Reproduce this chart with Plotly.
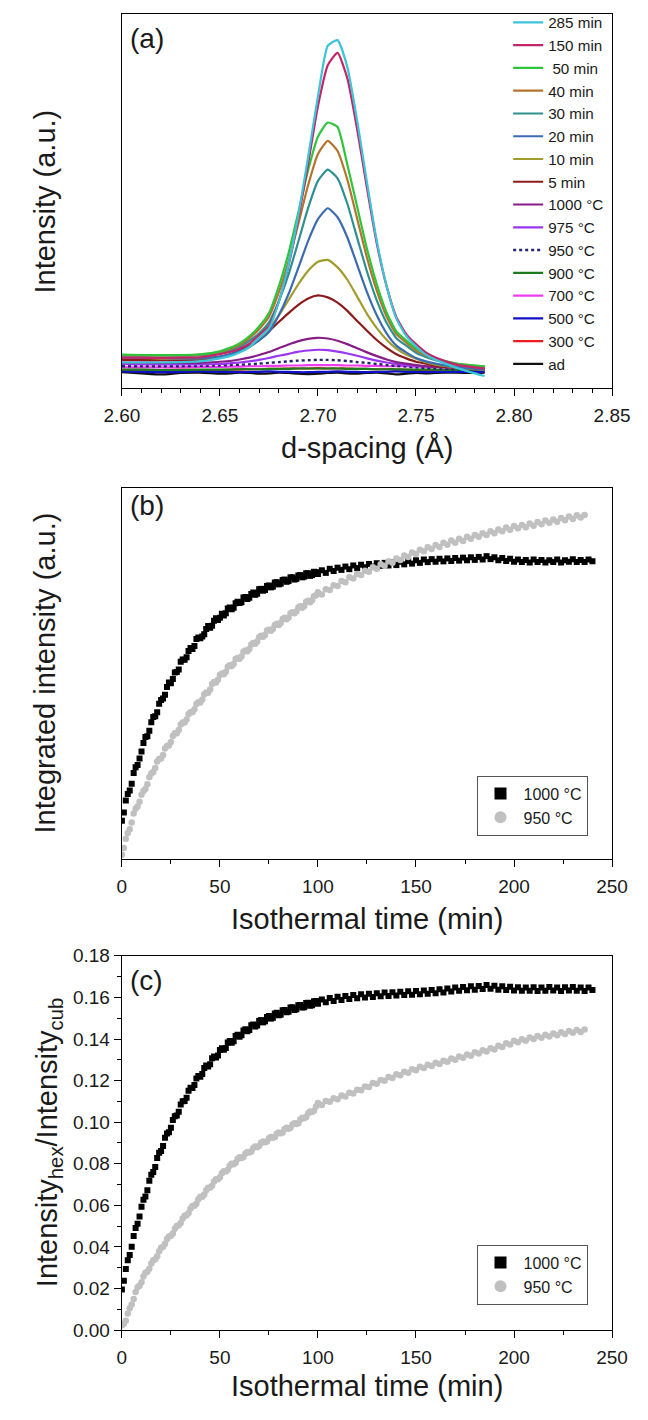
import plotly.graph_objects as go

# ---------------- panel (a) data ----------------
D_SPACING = [2.600, 2.610, 2.620, 2.630, 2.640, 2.650, 2.655, 2.660, 2.665, 2.670,
             2.675, 2.680, 2.685, 2.690, 2.695, 2.700, 2.705, 2.710, 2.715, 2.720,
             2.725, 2.730, 2.735, 2.740, 2.745, 2.750, 2.755, 2.760, 2.770, 2.780, 2.785]

I_285MIN = [6.9, 6.9, 6.9, 7.0, 7.2, 8.0, 8.6, 9.6, 11.0, 13.5, 16.0, 23.0, 33.1, 46.3, 61.8, 78.0,
            91.5, 93.0, 85.8, 71.5, 55.0, 39.4, 27.4, 18.6, 14.0, 11.2, 9.0, 7.6, 5.6, 4.0, 3.3]
I_150MIN = [8.2, 8.2, 8.1, 8.2, 8.3, 9.1, 9.7, 10.6, 11.9, 14.2, 16.6, 23.2, 32.8, 45.4, 60.0, 75.4,
            86.3, 89.6, 82.8, 69.2, 53.5, 38.7, 27.3, 19.0, 14.5, 11.8, 9.6, 8.2, 6.4, 5.6, 5.3]
I_50MIN = [9.0, 8.9, 8.9, 8.9, 9.1, 9.9, 10.8, 12.0, 13.9, 16.5, 20.1, 27.2, 36.1, 47.0, 58.3, 67.2,
           71.0, 69.8, 59.7, 48.5, 37.3, 27.8, 20.3, 15.2, 12.8, 10.6, 9.2, 8.0, 6.7, 6.1, 5.9]
I_40MIN = [8.9, 8.8, 8.8, 8.8, 9.0, 9.7, 10.5, 11.6, 13.4, 15.8, 19.1, 25.6, 33.9, 44.0, 54.3, 62.6,
           66.1, 63.4, 55.7, 45.3, 34.9, 26.1, 19.2, 14.5, 12.2, 10.1, 8.8, 7.8, 6.6, 6.0, 5.8]
I_30MIN = [8.8, 8.7, 8.7, 8.7, 8.8, 9.4, 10.1, 11.1, 12.7, 14.7, 17.6, 23.2, 30.4, 39.2, 48.2, 55.4,
           58.4, 56.1, 49.3, 40.2, 31.2, 23.5, 17.5, 13.4, 11.4, 9.5, 8.4, 7.5, 6.4, 5.9, 5.7]
I_20MIN = [8.2, 8.1, 8.1, 8.0, 8.0, 8.5, 9.1, 9.9, 11.1, 12.8, 15.0, 19.5, 25.2, 32.2, 39.4, 45.2,
           48.1, 45.7, 40.3, 33.0, 25.7, 19.5, 14.7, 11.4, 9.6, 8.1, 7.2, 6.6, 5.7, 5.2, 5.0]
I_10MIN = [8.2, 8.1, 8.0, 8.0, 8.0, 8.4, 9.0, 9.7, 11.0, 13.1, 15.9, 19.4, 23.6, 27.8, 31.4, 33.8,
           34.3, 32.3, 29.0, 24.5, 19.9, 16.1, 13.0, 10.6, 9.0, 7.9, 7.0, 6.3, 5.6, 5.1, 4.9]
I_5MIN = [7.6, 7.6, 7.5, 7.5, 7.7, 8.4, 9.0, 10.1, 11.3, 13.0, 15.2, 17.7, 20.1, 22.3, 24.0, 24.8,
          24.3, 22.9, 20.7, 18.0, 15.4, 12.9, 10.8, 9.1, 8.0, 7.1, 6.6, 6.0, 5.5, 5.1, 5.0]
I_1000C = [6.9, 6.9, 6.8, 6.8, 6.8, 7.1, 7.3, 7.7, 8.2, 8.9, 9.7, 10.7, 11.7, 12.6, 13.2, 13.5,
           13.3, 12.7, 11.8, 10.7, 9.6, 8.6, 7.7, 7.0, 6.6, 6.2, 5.9, 5.7, 5.5, 5.3, 5.2]
I_975C = [6.5, 6.4, 6.4, 6.4, 6.4, 6.5, 6.7, 6.9, 7.2, 7.6, 8.1, 8.7, 9.2, 9.8, 10.1, 10.3,
          10.2, 9.8, 9.3, 8.7, 8.0, 7.4, 6.9, 6.5, 6.2, 6.0, 5.9, 5.7, 5.6, 5.5, 5.4]
I_950C = [5.9, 5.9, 5.9, 5.9, 6.0, 6.1, 6.2, 6.3, 6.4, 6.6, 6.8, 7.0, 7.2, 7.4, 7.5, 7.6,
          7.6, 7.5, 7.3, 7.0, 6.8, 6.5, 6.2, 6.0, 5.8, 5.6, 5.4, 5.3, 5.1, 5.0, 4.9]
I_900C = [5.0, 5.0, 4.9, 4.9, 5.0, 5.0, 5.0, 5.1, 5.1, 5.1, 5.2, 5.2, 5.2, 5.3, 5.3, 5.3,
          5.3, 5.3, 5.2, 5.2, 5.2, 5.1, 5.1, 5.1, 5.0, 5.0, 5.0, 5.0, 4.9, 4.9, 4.9]
I_700C = [5.6, 5.6, 5.6, 5.6, 5.7, 5.7, 5.8, 5.8, 5.9, 5.9, 6.0, 6.0, 6.1, 6.1, 6.2, 6.2,
          6.2, 6.2, 6.1, 6.1, 6.0, 6.0, 5.9, 5.9, 5.9, 5.8, 5.8, 5.8, 5.8, 5.8, 5.8]
I_500C = [4.5, 4.4, 4.3, 4.4, 4.5, 4.4, 4.4, 4.3, 4.4, 4.4, 4.5, 4.4, 4.4, 4.3, 4.3, 4.4,
          4.4, 4.5, 4.4, 4.4, 4.3, 4.4, 4.4, 4.5, 4.4, 4.4, 4.3, 4.4, 4.4, 4.4, 4.4]
I_300C = [4.9, 4.8, 4.9, 5.0, 4.9, 4.9, 5.0, 5.0, 5.1, 5.1, 5.2, 5.2, 5.3, 5.3, 5.3, 5.4,
          5.3, 5.3, 5.3, 5.2, 5.2, 5.1, 5.1, 5.0, 5.0, 4.9, 4.9, 4.9, 4.8, 4.8, 4.8]
I_AD = [4.3, 4.0, 3.7, 4.1, 4.2, 3.9, 4.0, 4.2, 4.1, 3.9, 4.0, 4.2, 4.1, 3.9, 3.8, 3.9,
        4.1, 4.2, 4.0, 3.9, 4.1, 4.2, 4.0, 3.7, 3.9, 4.1, 4.0, 4.1, 4.2, 4.1, 4.2]

# drawing order (bottom to top); legend shows it reversed
SERIES_NAMES = ["ad", "300 °C", "500 °C", "700 °C", "900 °C", "950 °C", "975 °C", "1000 °C",
                "5 min", "10 min", "20 min", "30 min", "40 min", " 50 min", "150 min", "285 min"]
SERIES_VALUES = [I_AD, I_300C, I_500C, I_700C, I_900C, I_950C, I_975C, I_1000C,
                 I_5MIN, I_10MIN, I_20MIN, I_30MIN, I_40MIN, I_50MIN, I_150MIN, I_285MIN]
SERIES_COLORS = ["#111111", "#EE1C1C", "#1010C8", "#F03CF0", "#1E7A1E", "#23236E", "#9A35F0",
                 "#861E86", "#8C1C1C", "#A09C2E", "#3C6CB0", "#2E9090", "#B4742E", "#2EC43C",
                 "#C42468", "#3CC4D8"]

# ---------------- panels (b) and (c) data ----------------
TIME_1000 = [0, 2, 4, 6, 8, 10, 12, 14, 16, 18, 20, 22, 24, 26, 28, 30, 32, 34, 36, 38, 40,
             42, 44, 46, 48, 50, 52, 54, 56, 58, 60, 62, 64, 66, 68, 70, 72, 74, 76, 78, 80,
             82, 84, 86, 88, 90, 92, 94, 96, 98, 100, 102, 104, 106, 108, 110, 112, 114, 116, 118, 120,
             122, 124, 126, 128, 130, 132, 134, 136, 138, 140, 142, 144, 146, 148, 150, 152, 154, 156, 158, 160,
             162, 164, 166, 168, 170, 172, 174, 176, 178, 180, 182, 184, 186, 188, 190, 192, 194, 196, 198, 200,
             202, 204, 206, 208, 210, 212, 214, 216, 218, 220, 222, 224, 226, 228, 230, 232, 234, 236, 238, 240]
TIME_950 = [0, 2, 4, 6, 8, 10, 12, 14, 16, 18, 20, 22, 24, 26, 28, 30, 32, 34, 36, 38, 40,
            42, 44, 46, 48, 50, 52, 54, 56, 58, 60, 62, 64, 66, 68, 70, 72, 74, 76, 78, 80,
            82, 84, 86, 88, 90, 92, 94, 96, 98, 100, 102, 104, 106, 108, 110, 112, 114, 116, 118, 120,
            122, 124, 126, 128, 130, 132, 134, 136, 138, 140, 142, 144, 146, 148, 150, 152, 154, 156, 158, 160,
            162, 164, 166, 168, 170, 172, 174, 176, 178, 180, 182, 184, 186, 188, 190, 192, 194, 196, 198, 200,
            202, 204, 206, 208, 210, 212, 214, 216, 218, 220, 222, 224, 226, 228, 230, 232, 234, 236]
# extra (odd-minute) readings during the fast early rise
TIME_EARLY = [1, 3, 5, 7, 9, 11, 13, 15, 17, 19, 21, 23, 25, 27, 29, 31, 33, 35, 37, 39, 41, 43, 45,
              47, 49, 51, 53, 55, 57, 59, 61, 63, 65, 67, 69, 71, 73, 75, 77, 79, 81, 83, 85, 87, 89,
              91, 93, 95, 97, 99]

INTEG_1000 = [10.4, 15.8, 18.5, 23.2, 25.4, 29.0, 32.9, 34.6, 38.3, 39.6, 42.9, 44.3, 47.6, 48.5, 50.4,
              53.2, 53.7, 56.1, 56.6, 59.3, 59.5, 60.6, 62.8, 62.9, 64.9, 65.0, 65.6, 67.5, 67.3, 68.9,
              69.0, 70.5, 70.1, 71.4, 71.2, 72.7, 72.3, 73.6, 73.2, 74.5, 74.0, 75.2, 74.7, 75.9, 75.3,
              76.4, 75.9, 77.0, 76.3, 77.4, 76.8, 77.8, 77.1, 78.2, 77.6, 78.5, 77.9, 78.8, 78.1, 79.1,
              78.4, 79.3, 78.6, 79.5, 78.8, 79.7, 79.0, 79.8, 79.1, 79.9, 79.2, 80.1, 79.4, 80.3, 79.6,
              80.5, 79.8, 80.7, 80.0, 80.8, 80.1, 80.9, 80.2, 81.0, 80.3, 81.1, 80.4, 81.2, 80.5, 81.3,
              80.6, 81.4, 80.7, 81.6, 80.8, 81.3, 80.5, 81.1, 80.3, 80.9, 80.1, 80.7, 80.0, 80.6, 79.9,
              80.7, 80.0, 80.6, 79.9, 80.5, 80.0, 80.7, 79.9, 80.5, 80.1, 80.8, 80.0, 80.6, 80.0, 80.7, 80.2]
INTEG_1000_EARLY = [12.6, 17.6, 20.3, 24.8, 27.1, 31.3, 33.1, 36.9, 38.5, 41.9, 43.3, 46.4, 47.4, 50.3,
                    51.1, 53.8, 54.4, 56.9, 57.4, 59.7, 60.0, 62.0, 62.3, 64.2, 64.4, 66.1, 66.2, 67.8,
                    67.7, 69.3, 69.2, 70.6, 70.4, 71.8, 71.5, 72.8, 72.5, 73.7, 73.4, 74.6, 74.2, 75.3,
                    74.9, 75.9, 75.5, 76.5, 76.1, 77.0, 76.5, 77.3]
INTEG_950 = [1.2, 5.5, 8.1, 12.3, 14.2, 17.4, 18.9, 22.1, 23.5, 26.3, 27.1, 29.8, 30.6, 33.2, 33.9,
             36.3, 36.8, 39.1, 39.6, 41.8, 42.2, 44.4, 44.8, 47.2, 47.6, 49.6, 49.8, 51.8, 52.0, 53.9,
             54.0, 55.9, 56.0, 57.8, 58.0, 59.8, 59.9, 61.6, 61.5, 63.1, 63.1, 64.7, 64.6, 66.2, 66.2,
             67.8, 67.7, 69.3, 69.2, 70.8, 71.9, 71.3, 72.7, 72.5, 73.8, 73.6, 74.9, 74.6, 75.9, 75.6,
             76.8, 76.5, 77.7, 77.4, 78.6, 78.2, 79.4, 79.0, 80.2, 79.8, 81.0, 80.6, 81.8, 81.4, 82.6,
             82.2, 83.3, 82.9, 84.0, 83.5, 84.6, 84.1, 85.2, 84.7, 85.8, 85.2, 86.3, 85.7, 86.8, 86.3,
             87.3, 86.8, 87.8, 87.3, 88.3, 87.8, 88.8, 88.3, 89.3, 88.7, 89.7, 89.1, 90.0, 89.4, 90.4,
             89.8, 90.8, 90.2, 91.2, 90.6, 91.5, 90.9, 91.9, 91.3, 92.3, 91.6, 92.6, 92.0, 92.7]
INTEG_950_EARLY = [3.0, 7.1, 9.9, 13.6, 15.5, 18.4, 20.2, 23.1, 24.6, 27.0, 28.1, 30.5, 31.6, 33.9,
                   34.8, 36.8, 37.6, 39.6, 40.4, 42.3, 43.0, 44.9, 45.7, 47.7, 48.3, 50.0, 50.5, 52.2,
                   52.6, 54.2, 54.6, 56.2, 56.6, 58.2, 58.6, 60.2, 60.4, 61.8, 62.0, 63.4, 63.6, 65.0,
                   65.1, 66.5, 66.7, 68.1, 68.2, 69.6, 69.7, 71.1]

RATIO_1000 = [0.0195, 0.0294, 0.0362, 0.0453, 0.0512, 0.0594, 0.0643, 0.0718, 0.0760, 0.0828, 0.0861,
              0.0925, 0.0952, 0.1010, 0.1032, 0.1085, 0.1102, 0.1151, 0.1164, 0.1210, 0.1219,
              0.1261, 0.1268, 0.1307, 0.1311, 0.1347, 0.1348, 0.1383, 0.1382, 0.1414, 0.1411,
              0.1441, 0.1437, 0.1466, 0.1460, 0.1487, 0.1480, 0.1506, 0.1498, 0.1523, 0.1514,
              0.1538, 0.1528, 0.1551, 0.1540, 0.1562, 0.1551, 0.1573, 0.1560, 0.1582, 0.1569,
              0.1590, 0.1577, 0.1597, 0.1583, 0.1603, 0.1588, 0.1607, 0.1592, 0.1611, 0.1596,
              0.1615, 0.1599, 0.1618, 0.1602, 0.1620, 0.1605, 0.1623, 0.1607, 0.1625, 0.1609,
              0.1627, 0.1611, 0.1629, 0.1613, 0.1631, 0.1615, 0.1633, 0.1617, 0.1636, 0.1620,
              0.1639, 0.1624, 0.1643, 0.1628, 0.1647, 0.1632, 0.1650, 0.1634, 0.1653, 0.1637,
              0.1655, 0.1640, 0.1660, 0.1641, 0.1656, 0.1637, 0.1653, 0.1635, 0.1651, 0.1633,
              0.1649, 0.1632, 0.1648, 0.1632, 0.1649, 0.1631, 0.1648, 0.1632, 0.1650, 0.1633,
              0.1648, 0.1631, 0.1649, 0.1633, 0.1650, 0.1632, 0.1648, 0.1631, 0.1647, 0.1636]
RATIO_1000_EARLY = [0.0238, 0.0336, 0.0401, 0.0491, 0.0546, 0.0627, 0.0673, 0.0747, 0.0785, 0.0853,
                    0.0885, 0.0946, 0.0973, 0.1029, 0.1050, 0.1101, 0.1118, 0.1166, 0.1179, 0.1222,
                    0.1232, 0.1272, 0.1279, 0.1316, 0.1321, 0.1355, 0.1357, 0.1390, 0.1389, 0.1420,
                    0.1418, 0.1447, 0.1443, 0.1470, 0.1465, 0.1491, 0.1485, 0.1510, 0.1502, 0.1526,
                    0.1517, 0.1540, 0.1531, 0.1553, 0.1543, 0.1564, 0.1553, 0.1574, 0.1562, 0.1583]
RATIO_950 = [0.0024, 0.0045, 0.0106, 0.0150, 0.0206, 0.0230, 0.0276, 0.0295, 0.0336, 0.0355, 0.0396,
             0.0415, 0.0451, 0.0465, 0.0501, 0.0515, 0.0550, 0.0563, 0.0597, 0.0608, 0.0641,
             0.0652, 0.0685, 0.0695, 0.0726, 0.0735, 0.0764, 0.0771, 0.0800, 0.0805, 0.0831,
             0.0833, 0.0857, 0.0859, 0.0883, 0.0885, 0.0907, 0.0907, 0.0929, 0.0929, 0.0951,
             0.0951, 0.0973, 0.0973, 0.0995, 0.0995, 0.1021, 0.1025, 0.1051, 0.1055, 0.1092,
             0.1083, 0.1102, 0.1098, 0.1115, 0.1110, 0.1128, 0.1124, 0.1142, 0.1138, 0.1156,
             0.1153, 0.1172, 0.1169, 0.1188, 0.1185, 0.1203, 0.1199, 0.1217, 0.1213, 0.1231,
             0.1226, 0.1243, 0.1238, 0.1255, 0.1250, 0.1266, 0.1260, 0.1276, 0.1270, 0.1286,
             0.1280, 0.1296, 0.1290, 0.1306, 0.1300, 0.1316, 0.1310, 0.1326, 0.1320, 0.1336,
             0.1330, 0.1346, 0.1340, 0.1356, 0.1350, 0.1367, 0.1362, 0.1379, 0.1374, 0.1391,
             0.1384, 0.1399, 0.1392, 0.1407, 0.1400, 0.1414, 0.1406, 0.1420, 0.1412, 0.1426,
             0.1418, 0.1432, 0.1424, 0.1438, 0.1430, 0.1443, 0.1434, 0.1446]
RATIO_950_EARLY = [0.0031, 0.0080, 0.0124, 0.0183, 0.0214, 0.0258, 0.0281, 0.0320, 0.0341, 0.0380,
                   0.0401, 0.0438, 0.0454, 0.0488, 0.0504, 0.0537, 0.0552, 0.0585, 0.0598, 0.0629,
                   0.0642, 0.0673, 0.0686, 0.0715, 0.0726, 0.0754, 0.0763, 0.0790, 0.0798, 0.0823,
                   0.0828, 0.0850, 0.0854, 0.0876, 0.0880, 0.0901, 0.0903, 0.0923, 0.0925, 0.0945,
                   0.0947, 0.0967, 0.0969, 0.0989, 0.0991, 0.1013, 0.1019, 0.1043, 0.1049, 0.1075]

FONT = "Liberation Sans, Arial, sans-serif"
TXT = "#1a1a1a"

fig = go.Figure()

for name, vals, color in zip(SERIES_NAMES, SERIES_VALUES, SERIES_COLORS):
    fig.add_trace(go.Scatter(
        x=D_SPACING, y=vals, mode="lines", name=name,
        line=dict(color=color, width=2.2 if name != "950 °C" else 2.4,
                  dash="dot" if name == "950 °C" else "solid",
                  shape="spline", smoothing=0.5),
        xaxis="x", yaxis="y", legend="legend"))

for (tx, ty, nm, sym, col, sz, xa, ya, lg) in [
    (TIME_1000 + TIME_EARLY, INTEG_1000 + INTEG_1000_EARLY, "1000 °C", "square", "#000000", 6, "x2", "y2", "legend2"),
    (TIME_950 + TIME_EARLY, INTEG_950 + INTEG_950_EARLY, "950 °C", "circle", "#C0C0C0", 6.5, "x2", "y2", "legend2"),
    (TIME_1000 + TIME_EARLY, RATIO_1000 + RATIO_1000_EARLY, "1000 °C", "square", "#000000", 6, "x3", "y3", "legend3"),
    (TIME_950 + TIME_EARLY, RATIO_950 + RATIO_950_EARLY, "950 °C", "circle", "#C0C0C0", 6.5, "x3", "y3", "legend3"),
]:
    fig.add_trace(go.Scatter(x=tx, y=ty, mode="markers", name=nm,
                             marker=dict(symbol=sym, color=col, size=sz, line=dict(width=0)),
                             xaxis=xa, yaxis=ya, legend=lg))

W, H = 648, 1420
XL, XR = 110 / W, 629 / W


def ydom(top, bot):
    return [1 - bot / H, 1 - top / H]


axis_common = dict(showline=True, linecolor="black", linewidth=1.3, mirror=True,
                   showgrid=False, zeroline=False, ticklen=7, tickwidth=1.2,
                   tickcolor="black", tickfont=dict(family=FONT, size=19, color=TXT))
minor_x = dict(ticks="outside", ticklen=4, tickcolor="black", tickwidth=1)

layout = dict(
    width=W, height=H, margin=dict(l=0, r=0, t=0, b=0),
    paper_bgcolor="white", plot_bgcolor="white",
    font=dict(family=FONT, color=TXT),
    xaxis=dict(domain=[XL, XR], anchor="y", range=[2.60, 2.85], dtick=0.05, tick0=2.60,
               tickformat=".2f", ticklabelstandoff=3, ticks="outside",
               minor=dict(dtick=0.01, **minor_x), **axis_common),
    yaxis=dict(domain=ydom(4, 384), anchor="x", range=[0, 100], showticklabels=False,
               ticks="", **axis_common),
    xaxis2=dict(domain=[XL, XR], anchor="y2", range=[0, 250], dtick=50, ticklabelstandoff=3,
                ticks="outside", minor=dict(dtick=25, **minor_x), **axis_common),
    yaxis2=dict(domain=ydom(485, 862), anchor="x2", range=[0, 100], showticklabels=False,
                ticks="", **axis_common),
    xaxis3=dict(domain=[XL, XR], anchor="y3", range=[0, 250], dtick=50, ticklabelstandoff=3,
                ticks="outside", minor=dict(dtick=25, **minor_x), **axis_common),
    yaxis3=dict(domain=ydom(960, 1340), anchor="x3", range=[0, 0.18], dtick=0.02,
                tickformat=".2f", ticks="outside",
                minor=dict(dtick=0.01, **minor_x), **axis_common),
    legend=dict(x=519 / W, y=1 + 4 / H, xanchor="left", yanchor="top", traceorder="reversed",
                font=dict(family=FONT, size=15.2, color=TXT), bgcolor="rgba(0,0,0,0)",
                borderwidth=0, tracegroupgap=0),
    legend2=dict(x=603 / W, y=1 - 838 / H, xanchor="right", yanchor="bottom",
                 font=dict(family=FONT, size=16, color=TXT), bgcolor="white",
                 bordercolor="#555555", borderwidth=1, itemsizing="constant", itemwidth=36),
    legend3=dict(x=603 / W, y=1 - 1314 / H, xanchor="right", yanchor="bottom",
                 font=dict(family=FONT, size=16, color=TXT), bgcolor="white",
                 bordercolor="#555555", borderwidth=1, itemsizing="constant", itemwidth=36),
    showlegend=True,
)
fig.update_layout(**layout)

title_font = dict(family=FONT, size=29, color=TXT)
ann = [
    dict(text="(a)", x=116 / W, y=1 - 29 / H, xanchor="left", yanchor="middle", font=dict(family=FONT, size=28, color=TXT)),
    dict(text="(b)", x=116 / W, y=1 - 503 / H, xanchor="left", yanchor="middle", font=dict(family=FONT, size=28, color=TXT)),
    dict(text="(c)", x=116 / W, y=1 - 985 / H, xanchor="left", yanchor="middle", font=dict(family=FONT, size=28, color=TXT)),
    dict(text="d-spacing (Å)", x=369.5 / W, y=1 - 445 / H, xanchor="center", yanchor="middle", font=title_font),
    dict(text="Isothermal time (min)", x=369.5 / W, y=1 - 923 / H, xanchor="center", yanchor="middle", font=title_font),
    dict(text="Isothermal time (min)", x=369.5 / W, y=1 - 1397 / H, xanchor="center", yanchor="middle", font=title_font),
    dict(text="Intensity (a.u.)", x=29 / W, y=1 - 194 / H, xanchor="center", yanchor="middle", textangle=-90, font=title_font),
    dict(text="Integrated intensity (a.u.)", x=29 / W, y=1 - 673 / H, xanchor="center", yanchor="middle", textangle=-90, font=title_font),
    dict(text="Intensity<sub>hex</sub>/Intensity<sub>cub</sub>", x=33 / W, y=1 - 1150 / H, xanchor="center", yanchor="middle", textangle=-90, font=title_font),
]
for a in ann:
    a.update(xref="paper", yref="paper", showarrow=False)
fig.update_layout(annotations=ann)

fig.write_html("out.html")
